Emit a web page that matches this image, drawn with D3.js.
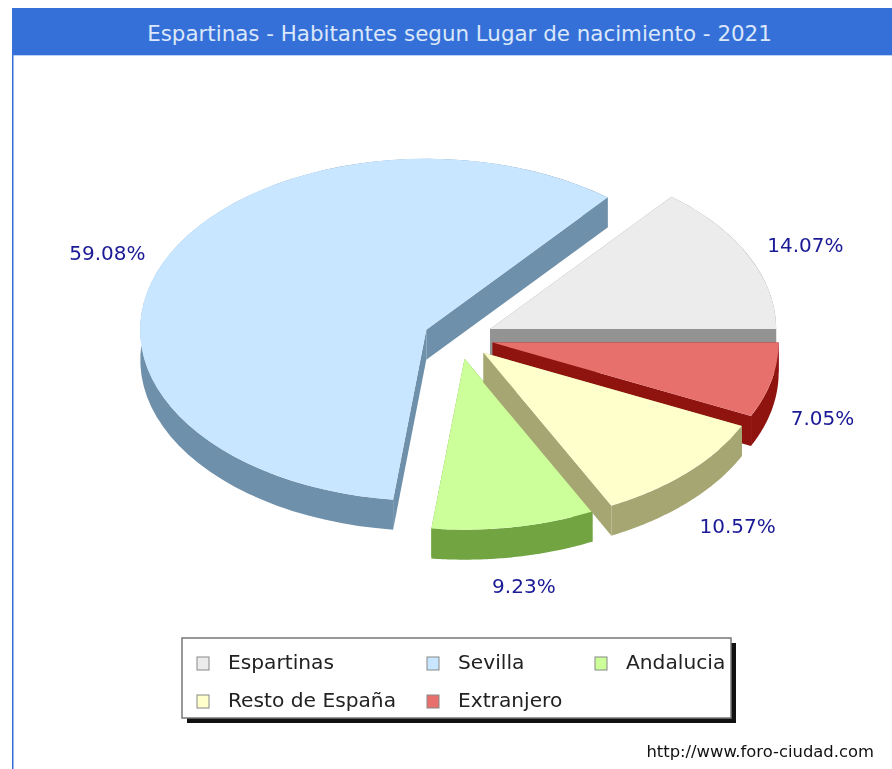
<!DOCTYPE html>
<html lang="es">
<head>
    <meta charset="UTF-8">
    <title>Espartinas - Habitantes segun Lugar de nacimiento - 2021</title>
    <script src="https://d3js.org/d3.v7.min.js"></script>
    <style>
        body { margin: 0; padding: 0; background: #fff; overflow: hidden; }
        /* the original is a slightly soft upscaled image */
        svg { display: block; font-family: "DejaVu Sans", sans-serif; filter: blur(0.4px); }
    </style>
</head>
<body>
    <svg id="chart" width="892" height="769"></svg>

    <script>
        // Values
        const categories = ['Espartinas', 'Sevilla', 'Andalucia', 'Resto de España', 'Extranjero'];
        const shares = [14.07, 59.08, 9.23, 10.57, 7.05];
        const topColors = ['#ececec', '#c8e6ff', '#ccff99', '#ffffcc', '#e8706c'];
        const sideColors = ['#939393', '#6f90aa', '#72a541', '#a6a672', '#8f1410'];
        const chartTitle = 'Espartinas - Habitantes segun Lugar de nacimiento - 2021';
        const creditText = 'http://www.foro-ciudad.com';

        // Pie geometry
        const cx = 458.5, cy = 338;
        const rx = 286, ry = 171;
        const depth = 30;
        const explodeX = 35, explodeY = 21;
        const labelFactor = 1.2;
        // small per label corrections, the original anchors labels by quadrant
        const labelShiftX = [5, -3, 0, 9, -5];
        const labelShiftY = [4, 3, -5, 0, 0];

        const svg = d3.select('#chart');

        // Title bar and frame
        svg.append('rect').attr('x', 12).attr('y', 8).attr('width', 880).attr('height', 47)
            .attr('fill', '#3570d8');
        svg.append('rect').attr('x', 12).attr('y', 55).attr('width', 880).attr('height', 1)
            .attr('fill', '#bcd2f4');
        svg.append('rect').attr('x', 12).attr('y', 55).attr('width', 1.5).attr('height', 714)
            .attr('fill', '#3570d8');
        svg.append('text')
            .attr('x', 459.5).attr('y', 41)
            .attr('text-anchor', 'middle')
            .attr('font-size', 21.4)
            .attr('fill', '#dbe7fa')
            .text(chartTitle);

        // Counter clockwise from east, d3 angles are measured from north
        const pie = d3.pie().sort(null).startAngle(Math.PI / 2).endAngle(Math.PI / 2 - 2 * Math.PI);
        const slices = pie(shares).map((s, i) => {
            const mid = (s.startAngle + s.endAngle) / 2;
            return {
                ...s,
                i,
                mid,
                tipX: cx + explodeX * Math.sin(mid),
                tipY: cy - explodeY * Math.cos(mid)
            };
        });

        const edgePoint = (s, a) => [s.tipX + rx * Math.sin(a), s.tipY - ry * Math.cos(a)];
        const line = d3.line();
        const arc = d3.arc().innerRadius(0).outerRadius(1);

        function wallPoints(s, a) {
            const e = edgePoint(s, a);
            return [[s.tipX, s.tipY], e, [e[0], e[1] + depth], [s.tipX, s.tipY + depth]];
        }

        function rimPoints(s) {
            const steps = d3.range(0, 61).map(k => s.startAngle + (s.endAngle - s.startAngle) * k / 60);
            const upper = steps.map(a => edgePoint(s, a));
            const lower = upper.map(p => [p[0], p[1] + depth]).reverse();
            return upper.concat(lower);
        }

        // Paint order as in the picture: back slices first
        const drawOrder = [1, 0, 4, 2, 3];
        const groups = svg.selectAll('.slice')
            .data(drawOrder.map(i => slices[i]))
            .enter()
            .append('g')
            .attr('class', 'slice');

        groups.append('path')
            .attr('d', d => line(rimPoints(d)) + 'Z')
            .attr('fill', d => sideColors[d.i]);
        groups.append('path')
            .attr('d', d => line(wallPoints(d, d.startAngle)) + 'Z')
            .attr('fill', d => sideColors[d.i]);
        groups.append('path')
            .attr('d', d => line(wallPoints(d, d.endAngle)) + 'Z')
            .attr('fill', d => sideColors[d.i]);
        groups.append('path')
            .attr('transform', d => `translate(${d.tipX},${d.tipY}) scale(${rx},${ry})`)
            .attr('d', d => arc(d))
            .attr('fill', d => topColors[d.i]);

        // Percentage labels
        svg.selectAll('.pct')
            .data(slices)
            .enter()
            .append('text')
            .attr('class', 'pct')
            .attr('x', d => d.tipX + labelFactor * rx * Math.sin(d.mid) + labelShiftX[d.i])
            .attr('y', d => d.tipY - labelFactor * ry * Math.cos(d.mid) + (Math.cos(d.mid) < 0 ? depth : 0) + 7 + labelShiftY[d.i])
            .attr('text-anchor', 'middle')
            .attr('font-size', 20)
            .attr('fill', '#1a1a96')
            .text(d => d.data.toFixed(2) + '%');

        // Legend
        const legendCols = d3.scaleOrdinal().domain([0, 1, 2]).range([197, 427, 595]);
        const legendRows = d3.scaleOrdinal().domain([0, 1]).range([657, 695]);
        svg.append('rect').attr('x', 187).attr('y', 643).attr('width', 549).attr('height', 80).attr('fill', '#111');
        svg.append('rect').attr('x', 182).attr('y', 638).attr('width', 549).attr('height', 80)
            .attr('fill', '#fff').attr('stroke', '#777').attr('stroke-width', 1.5);

        const legend = svg.selectAll('.legend-item')
            .data(categories)
            .enter()
            .append('g')
            .attr('class', 'legend-item')
            .attr('transform', (d, i) => `translate(${legendCols(i % 3)},${legendRows(Math.floor(i / 3))})`);
        legend.append('rect')
            .attr('width', 12).attr('height', 13)
            .attr('fill', (d, i) => topColors[i])
            .attr('stroke', '#888').attr('stroke-width', 1);
        legend.append('text')
            .attr('x', 31).attr('y', 12)
            .attr('font-size', 20.2)
            .attr('fill', '#222')
            .text(d => d);

        svg.append('text')
            .attr('x', 874).attr('y', 757)
            .attr('text-anchor', 'end')
            .attr('font-size', 16.4)
            .attr('fill', '#111')
            .text(creditText);
    </script>
</body>
</html>
